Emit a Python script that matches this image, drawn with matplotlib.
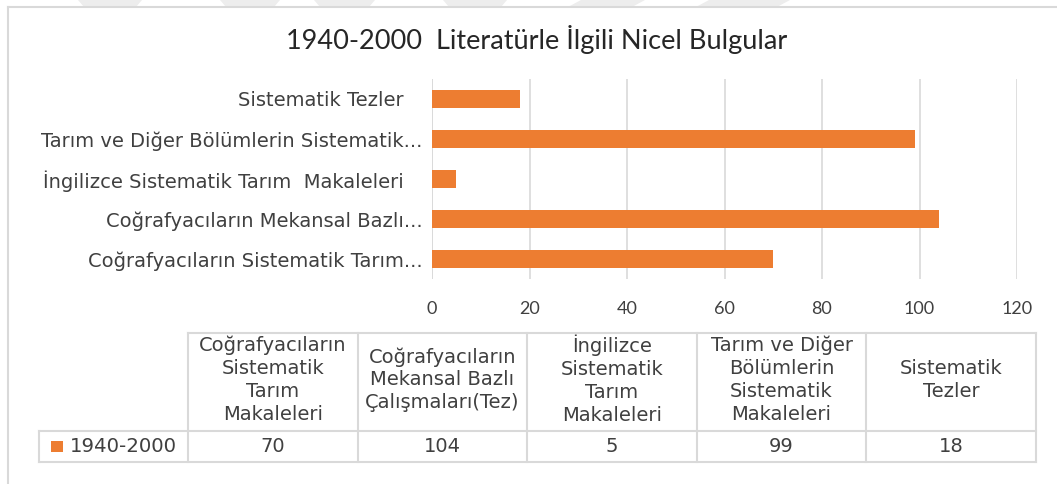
import matplotlib
matplotlib.use('Agg')
import matplotlib.pyplot as plt
from matplotlib.patches import Polygon, Rectangle

W, H = 1057, 484

# data, bottom bar first (same order as the data table columns)
categories = [
    'Coğrafyacıların Sistematik Tarım Makaleleri',
    'Coğrafyacıların Mekansal Bazlı Çalışmaları(Tez)',
    'İngilizce Sistematik Tarım  Makaleleri',
    'Tarım ve Diğer Bölümlerin Sistematik Makaleleri',
    'Sistematik Tezler',
]
values = [70, 104, 5, 99, 18]
axis_labels = [
    'Coğrafyacıların Sistematik Tarım...',
    'Coğrafyacıların Mekansal Bazlı...',
    'İngilizce Sistematik Tarım  Makaleleri   ',
    'Tarım ve Diğer Bölümlerin Sistematik...',
    'Sistematik Tezler   ',
]
table_headers = [
    'Coğrafyacıların\nSistematik\nTarım\nMakaleleri',
    'Coğrafyacıların\nMekansal Bazlı\nÇalışmaları(Tez)',
    'İngilizce\nSistematik\nTarım\nMakaleleri',
    'Tarım ve Diğer\nBölümlerin\nSistematik\nMakaleleri',
    'Sistematik\nTezler',
]
series_name = '1940-2000'
x_ticks = [0, 20, 40, 60, 80, 100, 120]
title = '1940-2000  Literatürle İlgili Nicel Bulgular'

BAR = '#ED7D31'
GRID = '#D9D9D9'
TEXT = '#404040'
WATERMARK = '#EDEDED'
WIDE = ['DejaVu Sans']

plt.rcParams['font.family'] = ['Lato', 'DejaVu Sans']


def px_box(left, top, right, bottom):
    return [left / W, 1 - bottom / H, (right - left) / W, (bottom - top) / H]


fig = plt.figure(figsize=(W / 100, H / 100), dpi=100)

# overlay in pixel coordinates for frame, watermark and data table
ov = fig.add_axes([0, 0, 1, 1])
ov.set_xlim(0, W)
ov.set_ylim(H, 0)
ov.axis('off')

for x0, x1, shift in [(78, 142, 6), (220, 280, 6), (314, 375, 6), (443, 507, 6),
                      (581, 645, -13), (709, 790, -13)]:
    if shift > 0:
        pts = [(x0, 0), (x1, 0), (x1 - shift, 7), (x0 + shift, 7)]
    else:
        pts = [(x0, 0), (x1, 0), (x1 + shift, 7), (x0 + shift, 7)]
    ov.add_patch(Polygon(pts, closed=True, color=WATERMARK, lw=0))
ov.plot([8, W], [7, 7], color=GRID, lw=1.5)
ov.plot([8, 8], [7, H], color=GRID, lw=1.5)

ov.text(537, 40, title, ha='center', va='center', fontsize=19.5, color='#262626')

# bar chart
ax = fig.add_axes(px_box(432, 79, 1017, 279))
ypos = list(range(len(values)))
ax.barh(ypos, values, height=0.43, color=BAR, zorder=2)
ax.set_xlim(0, 120)
ax.set_ylim(-0.5, len(values) - 0.5)
ax.set_xticks(x_ticks)
ax.set_yticks(ypos, axis_labels)
ax.xaxis.grid(True, color=GRID, lw=1.2)
ax.set_axisbelow(True)
for s in ax.spines.values():
    s.set_visible(False)
ax.axvline(0, color=GRID, lw=1.2, zorder=1)
ax.tick_params(axis='x', length=0, pad=16, labelsize=13, labelcolor=TEXT)
ax.tick_params(axis='y', length=0, pad=7, labelsize=14, labelcolor=TEXT)
for lab in ax.get_yticklabels():
    lab.set_family(WIDE)
ax.set_facecolor('none')

# data table
col_edges = [188, 357.6, 527.2, 696.8, 866.4, 1036]
row_left = 39
top, mid, bottom = 332.7, 430.7, 461.7
lk = dict(color=GRID, lw=1.5)
ov.plot([col_edges[0], col_edges[-1]], [top, top], **lk)
ov.plot([row_left, col_edges[-1]], [mid, mid], **lk)
ov.plot([row_left, col_edges[-1]], [bottom, bottom], **lk)
ov.plot([row_left, row_left], [mid, bottom], **lk)
for x in col_edges:
    ov.plot([x, x], [top, bottom], **lk)

for i, (head, val) in enumerate(zip(table_headers, values)):
    cx = (col_edges[i] + col_edges[i + 1]) / 2
    ov.text(cx, (top + mid) / 2 - 2, head, ha='center', va='center', fontsize=14,
            color=TEXT, linespacing=1.25, family=WIDE)
    ov.text(cx, (mid + bottom) / 2, str(val), ha='center', va='center',
            fontsize=14, color=TEXT, family=WIDE)

ov.add_patch(Rectangle((51, 441), 12, 11, color=BAR, lw=0))
ov.text(70, (mid + bottom) / 2, series_name, ha='left', va='center',
        fontsize=14.2, color=TEXT, family=WIDE)

fig.savefig('out.png', dpi=100)
